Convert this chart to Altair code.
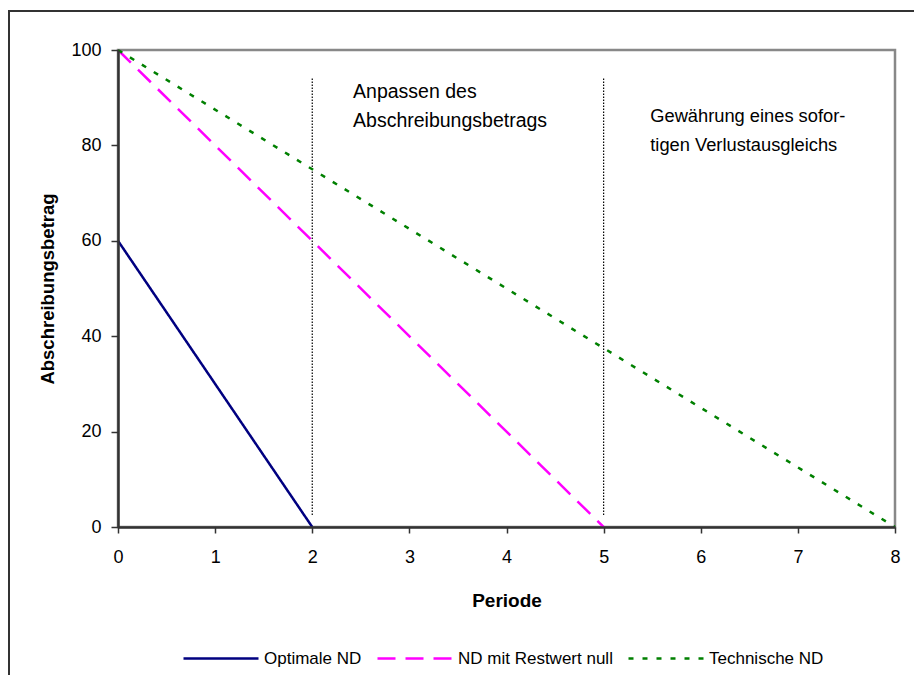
import altair as alt
import pandas as pd

FONT = "Liberation Sans, Arial, Helvetica, sans-serif"

# Depreciation schedules (Periode -> Abschreibungsbetrag)
series_names = ["Optimale ND", "ND mit Restwert null", "Technische ND"]
series_colors = ["#000080", "#FF00FF", "#008000"]
series_dashes = [[1, 0], [18, 10], [5, 9]]
series_widths = [2.5, 2.5, 3.2]

optimal_period = [0, 2]
optimal_amount = [60, 0]
residual_period = [0, 5]
residual_amount = [100, 0]
technical_period = [0, 8]
technical_amount = [100, 0]

# Phase boundaries (dotted verticals)
boundary_period = [2, 5]
boundary_low = [2.5, 2.5]
boundary_high = [94, 94]

# Phase labels
note1_text = ["Anpassen des\nAbschreibungsbetrags"]
note1_period = [2.42]
note1_amount = [90]
note2_text = ["Gewährung eines sofor-\ntigen Verlustausgleichs"]
note2_period = [5.48]
note2_amount = [85.0]

x_ticks = list(range(0, 9))
y_ticks = [0, 20, 40, 60, 80, 100]

rows = []
for name, periods, amounts in [
    (series_names[0], optimal_period, optimal_amount),
    (series_names[1], residual_period, residual_amount),
    (series_names[2], technical_period, technical_amount),
]:
    for i, (p, a) in enumerate(zip(periods, amounts)):
        rows.append({"Reihe": name, "Periode": p, "Betrag": a, "ord": i})
lines_df = pd.DataFrame(rows)

bounds_df = pd.DataFrame({"Periode": boundary_period, "lo": boundary_low, "hi": boundary_high})
note1_df = pd.DataFrame({"text": note1_text, "Periode": note1_period, "Betrag": note1_amount})
note2_df = pd.DataFrame({"text": note2_text, "Periode": note2_period, "Betrag": note2_amount})

x_scale = alt.Scale(domain=[0, 8], nice=False, zero=False)
y_scale = alt.Scale(domain=[0, 100], nice=False)

x_axis = alt.Axis(
    values=x_ticks, format="d", title="Periode", grid=False,
    labelFont=FONT, labelFontSize=18, labelColor="#000", labelPadding=15, labelFlush=False,
    tickSize=6, tickColor="#333", tickWidth=1.5,
    domainColor="#333", domainWidth=2.5,
    titleFont=FONT, titleFontSize=19, titleFontWeight="bold", titleColor="#000",
    titleX=388.5, titleY=79, titleBaseline="alphabetic", titleAnchor="middle", zindex=1,
)
y_axis = alt.Axis(
    values=y_ticks, format="d", title="Abschreibungsbetrag", grid=False,
    labelFont=FONT, labelFontSize=18, labelColor="#000", labelPadding=10, labelFlush=False,
    tickSize=7, tickColor="#333", tickWidth=1.5,
    domainColor="#333", domainWidth=2.5,
    titleFont=FONT, titleFontSize=18.5, titleFontWeight="bold", titleColor="#000",
    titleX=-64.5, titleY=238.5, titleAngle=-90, titleBaseline="alphabetic",
    titleAlign="center", titleAnchor="middle", zindex=1,
)

legend = alt.Legend(
    title=None, orient="none", legendX=64, legendY=569.5, direction="horizontal",
    symbolType="stroke", symbolSize=5625, symbolStrokeWidth=2.5,
    labelFont=FONT, labelFontSize=17, labelColor="#000", labelOffset=4,
    columnPadding=10, padding=0, labelLimit=0,
)

lines = alt.Chart(lines_df).mark_line(clip=False).encode(
    x=alt.X("Periode:Q", scale=x_scale, axis=x_axis),
    y=alt.Y("Betrag:Q", scale=y_scale, axis=y_axis),
    color=alt.Color("Reihe:N", scale=alt.Scale(domain=series_names, range=series_colors), legend=legend),
    strokeDash=alt.StrokeDash("Reihe:N", scale=alt.Scale(domain=series_names, range=series_dashes), legend=legend),
    strokeWidth=alt.StrokeWidth("Reihe:N", scale=alt.Scale(domain=series_names, range=series_widths), legend=None),
    order="ord:Q",
)

bounds = alt.Chart(bounds_df).mark_rule(color="#000", strokeWidth=1.2, strokeDash=[1.5, 1.5]).encode(
    x=alt.X("Periode:Q", scale=x_scale),
    y=alt.Y("lo:Q", scale=y_scale),
    y2="hi:Q",
)


def note_layer(df, size):
    return alt.Chart(df).mark_text(
        align="left", baseline="alphabetic", font=FONT, fontSize=size, lineBreak="\n",
        lineHeight=29, color="#000",
    ).encode(
        x=alt.X("Periode:Q", scale=x_scale),
        y=alt.Y("Betrag:Q", scale=y_scale),
        text="text:N",
    )


note1 = note_layer(note1_df, 19.5)
note2 = note_layer(note2_df, 18.3)

# Outer chart frame (top and left edges)
frame_src = pd.DataFrame({"k": [0]})
frame_top = alt.Chart(frame_src).mark_rule(color="#333", strokeWidth=2, clip=False).encode(
    x=alt.value(-110), x2=alt.value(820), y=alt.value(-39)
)
frame_left = alt.Chart(frame_src).mark_rule(color="#333", strokeWidth=2, clip=False).encode(
    x=alt.value(-109), y=alt.value(-40), y2=alt.value(640)
)

chart = alt.layer(bounds, lines, note1, note2, frame_top, frame_left).properties(
    width=777, height=477,
    autosize=alt.AutoSizeParams(type="none"),
    padding={"left": 118, "top": 50, "right": 19, "bottom": 148},
    background="white",
).configure_view(stroke="#888", strokeWidth=2.5)

chart.save("out.html", embed_options={"renderer": "svg", "actions": False})
